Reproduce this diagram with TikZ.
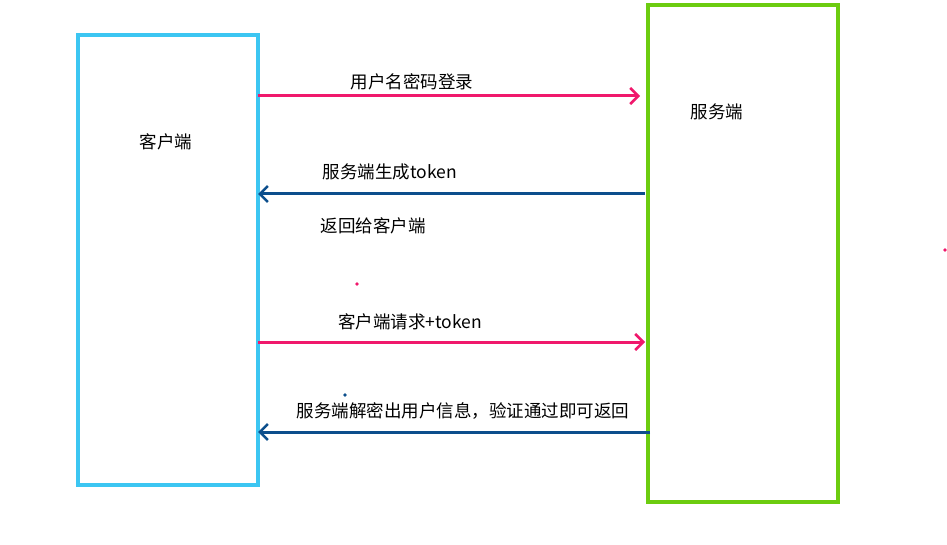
\documentclass[tikz,border=0pt]{standalone}
\usepackage{fontspec}
\setmainfont{Noto Sans CJK SC}
\usetikzlibrary{arrows.meta}
\definecolor{pinkc}{HTML}{F0186C}
\definecolor{bluec}{HTML}{0C4E8C}
\definecolor{cyanc}{HTML}{3CC6F2}
\definecolor{greenc}{HTML}{6CCC10}
\tikzset{
  lbl/.style={font=\fontsize{17.5}{20}\selectfont, inner sep=0pt},
  box/.style={line width=3.5pt},
  arr/.style={line width=3pt, -{Straight Barb[length=8pt,width=16pt,line width=2.5pt]}}
}
\begin{document}
\begin{tikzpicture}[x=1pt,y=-1pt]
\useasboundingbox (0,0) rectangle (947,545);
\draw[box,cyanc] (78,35) rectangle (258,485);
\draw[box,greenc] (648,5) rectangle (838,502);
\node[lbl] (client) at (166,142) {客户端};
\node[lbl] (server) at (717,112) {服务端};
\coordinate (a1s) at (258,96); \coordinate (a1e) at (640,96);
\coordinate (a2s) at (645,194); \coordinate (a2e) at (258,194);
\coordinate (a3s) at (258,342); \coordinate (a3e) at (645,342);
\coordinate (a4s) at (650,432); \coordinate (a4e) at (258,432);
\draw[arr,pinkc] (a1s) -- (a1e);
\draw[arr,bluec] (a2s) -- (a2e);
\draw[arr,pinkc] (a3s) -- (a3e);
\draw[arr,bluec] (a4s) -- (a4e);
\node[lbl] (l1) at (412,82) {用户名密码登录};
\node[lbl] (l2) at (390,172) {服务端生成token};
\node[lbl] (l3) at (373,226) {返回给客户端};
\node[lbl] (l4) at (410,322) {客户端请求+token};
\node[lbl] (l5) at (463,411) {服务端解密出用户信息，验证通过即可返回};
\fill[pinkc] (357,284) circle (1.8);
\fill[bluec] (345,395) circle (1.8);
\fill[pinkc] (945,250) circle (1.8);
\end{tikzpicture}
\end{document}
